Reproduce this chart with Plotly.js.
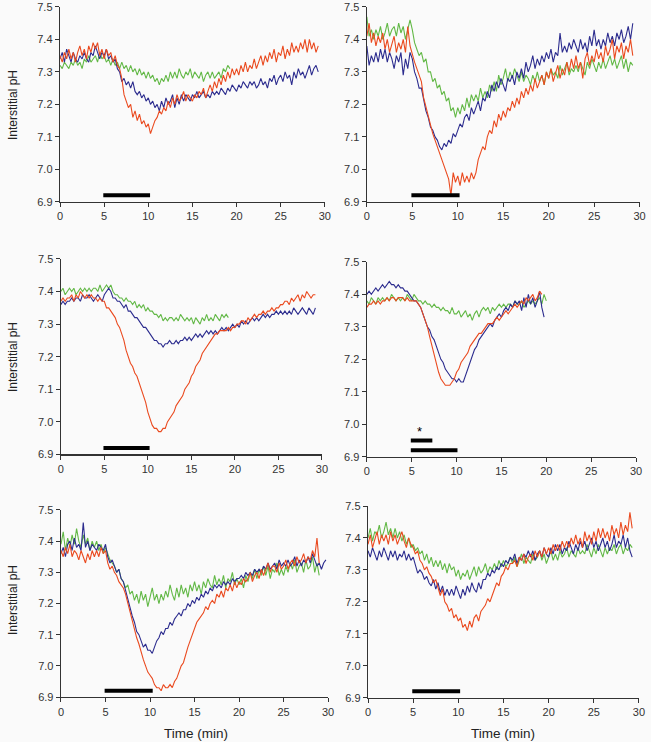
<!DOCTYPE html>
<html>
<head>
<meta charset="utf-8">
<script src="https://cdn.plot.ly/plotly-3.0.1.min.js"></script>
<style>html,body{margin:0;padding:0;background:#fafafa;}#chart{width:651px;height:742px;}</style>
</head>
<body>
<div id="chart"></div>
<script>
// Sampling step of every trace (min)
const STEP = 0.25;

// Panel 1 (top-left)
const p1_red = [7.35,7.33,7.36,7.34, 7.37,7.34,7.36,7.33, 7.36,7.38,7.35,7.37, 7.34,7.38,7.36,7.39, 7.37,7.39,7.35,7.37, 7.34,7.37,7.35,7.36, 7.33,7.35,7.32,7.31, 7.28,7.23,7.21,7.19, 7.20,7.16,7.18,7.15, 7.17,7.14,7.15,7.13, 7.14,7.11,7.13,7.15, 7.16,7.18,7.17,7.19, 7.18,7.21,7.19,7.22, 7.20,7.23,7.21,7.22, 7.24,7.21,7.23,7.22, 7.21,7.23,7.22,7.24, 7.23,7.25,7.22,7.24, 7.26,7.24,7.27,7.25, 7.28,7.26,7.29,7.27, 7.30,7.28,7.31,7.29, 7.31,7.29,7.32,7.30, 7.33,7.30,7.32,7.31, 7.34,7.31,7.33,7.35, 7.32,7.35,7.33,7.36, 7.34,7.37,7.33,7.36, 7.35,7.38,7.34,7.37, 7.35,7.39,7.36,7.38, 7.36,7.39,7.37,7.40, 7.36,7.40,7.37,7.39, 7.36,7.38];
const p1_blue = [7.34,7.36,7.33,7.37, 7.35,7.33,7.36,7.34, 7.33,7.35,7.34,7.36, 7.34,7.33,7.36,7.35, 7.38,7.36,7.34,7.36, 7.35,7.37,7.34,7.35, 7.33,7.34,7.31,7.30, 7.27,7.28,7.26,7.27, 7.25,7.27,7.24,7.23, 7.24,7.22,7.23,7.21, 7.22,7.20,7.21,7.19, 7.20,7.18,7.21,7.19, 7.22,7.20,7.21,7.23, 7.19,7.22,7.20,7.23, 7.21,7.23,7.22,7.21, 7.23,7.22,7.24,7.22, 7.23,7.24,7.22,7.23, 7.22,7.24,7.23,7.24, 7.23,7.25,7.24,7.23, 7.25,7.24,7.26,7.25, 7.24,7.26,7.25,7.27, 7.26,7.25,7.27,7.26, 7.27,7.25,7.26,7.28, 7.26,7.27,7.25,7.28, 7.27,7.29,7.26,7.28, 7.29,7.27,7.30,7.28, 7.29,7.26,7.30,7.28, 7.31,7.29,7.30,7.28, 7.30,7.32,7.29,7.31, 7.32,7.30];
const p1_green = [7.32,7.31,7.33,7.32, 7.31,7.33,7.32,7.34, 7.32,7.33,7.31,7.34, 7.33,7.35,7.33,7.34, 7.35,7.33,7.36,7.34, 7.35,7.33,7.34,7.32, 7.34,7.32,7.33,7.31, 7.33,7.31,7.32,7.30, 7.32,7.30,7.31,7.29, 7.31,7.29,7.30,7.28, 7.30,7.28,7.29,7.27, 7.28,7.26,7.28,7.27, 7.29,7.27,7.30,7.28, 7.30,7.28,7.31,7.29, 7.28,7.30,7.29,7.31, 7.28,7.30,7.29,7.28, 7.30,7.27,7.29,7.30, 7.28,7.30,7.28,7.29, 7.30,7.28,7.31,7.30, 7.32,7.31];

// Panel 2 (top-right)
const p2_red = [7.41,7.45,7.39,7.42, 7.38,7.41,7.39,7.42, 7.37,7.40,7.36,7.39, 7.41,7.36,7.39,7.37, 7.40,7.36,7.44,7.38, 7.35,7.33,7.31,7.29, 7.27,7.22,7.19,7.16, 7.14,7.11,7.09,7.07, 7.05,7.03,7.01,6.99, 6.97,6.92,6.99,6.96, 6.98,6.95,6.99,6.96, 6.98,6.96,6.99,6.97, 6.99,7.03,7.05,7.07, 7.06,7.10,7.12,7.11, 7.15,7.13,7.17,7.15, 7.18,7.16,7.19,7.18, 7.21,7.19,7.22,7.20, 7.24,7.22,7.25,7.23, 7.26,7.24,7.28,7.25, 7.27,7.29,7.26,7.30, 7.28,7.31,7.27,7.30, 7.32,7.28,7.31,7.29, 7.33,7.30,7.34,7.31, 7.35,7.31,7.33,7.28, 7.34,7.36,7.32,7.35, 7.33,7.37,7.34,7.36, 7.33,7.38,7.35,7.37, 7.40,7.34,7.38,7.36, 7.39,7.34,7.38,7.36, 7.40,7.35];
const p2_blue = [7.38,7.32,7.35,7.33, 7.36,7.33,7.37,7.34, 7.37,7.33,7.36,7.34, 7.31,7.35,7.33,7.36, 7.29,7.34,7.31,7.36, 7.34,7.30,7.28,7.25, 7.25,7.21,7.18,7.16, 7.13,7.12,7.10,7.09, 7.07,7.06,7.08,7.07, 7.09,7.08,7.11,7.10, 7.12,7.14,7.13,7.16, 7.17,7.15,7.19,7.17, 7.19,7.21,7.18,7.22, 7.21,7.24,7.22,7.26, 7.24,7.27,7.25,7.28, 7.26,7.24,7.28,7.27, 7.29,7.26,7.30,7.28, 7.31,7.28,7.33,7.30, 7.32,7.35,7.31,7.34, 7.32,7.35,7.33,7.36, 7.34,7.37,7.33,7.36, 7.35,7.42,7.36,7.38, 7.36,7.39,7.37,7.40, 7.38,7.36,7.40,7.37, 7.39,7.36,7.41,7.38, 7.43,7.38,7.40,7.37, 7.40,7.38,7.42,7.39, 7.41,7.38,7.42,7.40, 7.43,7.39,7.41,7.44, 7.40,7.45];
const p2_green = [7.47,7.41,7.43,7.40, 7.43,7.41,7.44,7.40, 7.42,7.45,7.41,7.43, 7.44,7.41,7.45,7.42, 7.44,7.40,7.43,7.46, 7.43,7.39,7.37,7.35, 7.36,7.33,7.34,7.30, 7.30,7.27,7.28,7.25, 7.26,7.23,7.24,7.21, 7.22,7.18,7.19,7.16, 7.19,7.17,7.20,7.18, 7.22,7.19,7.23,7.21, 7.23,7.21,7.25,7.22, 7.24,7.22,7.26,7.24, 7.27,7.24,7.29,7.26, 7.28,7.31,7.27,7.30, 7.28,7.31,7.29,7.27, 7.30,7.27,7.29,7.28, 7.26,7.29,7.27,7.30, 7.27,7.29,7.26,7.30, 7.28,7.31,7.29,7.30, 7.28,7.32,7.29,7.31, 7.33,7.29,7.31,7.30, 7.32,7.30,7.33,7.31, 7.29,7.33,7.31,7.34, 7.32,7.30,7.33,7.31, 7.34,7.31,7.33,7.35, 7.32,7.34,7.31,7.33, 7.35,7.31,7.34,7.30, 7.33,7.32];

// Panel 3 (middle-left)
const p3_red = [7.37,7.38,7.37,7.38, 7.38,7.39,7.37,7.39, 7.38,7.40,7.39,7.38, 7.39,7.38,7.39,7.38, 7.38,7.37,7.38,7.37, 7.37,7.35,7.35,7.34, 7.33,7.32,7.30,7.29, 7.27,7.25,7.22,7.20, 7.18,7.17,7.15,7.14, 7.12,7.10,7.08,7.06, 7.03,7.01,6.99,6.98, 6.98,6.97,6.97,6.98, 6.98,7.00,7.01,7.02, 7.03,7.05,7.06,7.07, 7.08,7.10,7.11,7.12, 7.14,7.15,7.17,7.18, 7.19,7.21,7.22,7.23, 7.24,7.25,7.26,7.27, 7.27,7.28,7.28,7.28, 7.28,7.29,7.28,7.29, 7.29,7.30,7.30,7.31, 7.31,7.30,7.32,7.31, 7.32,7.33,7.32,7.33, 7.33,7.34,7.33,7.34, 7.34,7.35,7.34,7.35, 7.35,7.36,7.36,7.37, 7.37,7.36,7.38,7.37, 7.38,7.39,7.37,7.39, 7.38,7.40,7.39,7.38, 7.39,7.39];
const p3_blue = [7.36,7.37,7.36,7.37, 7.37,7.38,7.37,7.38, 7.38,7.37,7.39,7.38, 7.38,7.39,7.38,7.37, 7.38,7.39,7.38,7.37, 7.39,7.40,7.41,7.40, 7.38,7.38,7.37,7.37, 7.36,7.35,7.36,7.34, 7.34,7.33,7.32,7.32, 7.31,7.30,7.29,7.29, 7.28,7.27,7.26,7.25, 7.25,7.24,7.24,7.23, 7.24,7.24,7.25,7.24, 7.24,7.25,7.24,7.25, 7.25,7.26,7.25,7.26, 7.25,7.26,7.27,7.26, 7.27,7.26,7.27,7.28, 7.27,7.28,7.27,7.28, 7.27,7.28,7.29,7.28, 7.29,7.28,7.29,7.30, 7.29,7.30,7.29,7.31, 7.30,7.31,7.30,7.31, 7.32,7.31,7.32,7.31, 7.32,7.33,7.32,7.33, 7.32,7.33,7.33,7.34, 7.33,7.34,7.33,7.34, 7.33,7.34,7.33,7.35, 7.34,7.33,7.34,7.35, 7.34,7.33,7.35,7.34, 7.33,7.35];
const p3_green = [7.40,7.41,7.39,7.40, 7.41,7.40,7.41,7.39, 7.40,7.41,7.40,7.41, 7.40,7.41,7.40,7.41, 7.41,7.40,7.42,7.40, 7.41,7.42,7.41,7.42, 7.40,7.39,7.39,7.38, 7.38,7.37,7.38,7.37, 7.37,7.36,7.37,7.35, 7.36,7.35,7.36,7.34, 7.35,7.34,7.34,7.33, 7.33,7.32,7.33,7.31, 7.32,7.31,7.32,7.32, 7.31,7.32,7.31,7.33, 7.32,7.31,7.32,7.31, 7.32,7.30,7.32,7.31, 7.30,7.32,7.31,7.33, 7.31,7.32,7.31,7.33, 7.32,7.31,7.33,7.32, 7.33,7.32];

// Panel 4 (middle-right)
const p4_red = [7.36,7.37,7.37,7.38, 7.37,7.38,7.37,7.38, 7.38,7.39,7.38,7.39, 7.39,7.38,7.39,7.39, 7.39,7.38,7.39,7.38, 7.38,7.38,7.38,7.37, 7.36,7.34,7.32,7.30, 7.27,7.24,7.21,7.19, 7.16,7.14,7.13,7.12, 7.12,7.12,7.13,7.14, 7.16,7.17,7.19,7.20, 7.21,7.22,7.24,7.25, 7.26,7.27,7.28,7.28, 7.29,7.30,7.31,7.31, 7.31,7.32,7.33,7.32, 7.33,7.34,7.35,7.34, 7.35,7.36,7.37,7.36, 7.37,7.38,7.37,7.39, 7.38,7.39,7.40,7.38, 7.39,7.41,7.40];
const p4_blue = [7.40,7.41,7.40,7.41, 7.42,7.41,7.42,7.43, 7.42,7.43,7.44,7.43, 7.43,7.42,7.43,7.42, 7.42,7.41,7.41,7.40, 7.39,7.38,7.38,7.37, 7.36,7.34,7.32,7.30, 7.29,7.27,7.26,7.24, 7.22,7.20,7.19,7.17, 7.16,7.15,7.14,7.14, 7.13,7.14,7.13,7.13, 7.15,7.17,7.19,7.21, 7.23,7.24,7.26,7.27, 7.28,7.29,7.30,7.31, 7.30,7.32,7.33,7.34, 7.33,7.35,7.36,7.35, 7.37,7.36,7.38,7.37, 7.38,7.35,7.39,7.36, 7.40,7.37,7.39,7.36, 7.38,7.41,7.36,7.33];
const p4_green = [7.38,7.37,7.39,7.38, 7.37,7.39,7.38,7.39, 7.38,7.39,7.38,7.40, 7.39,7.38,7.39,7.38, 7.39,7.38,7.40,7.39, 7.38,7.40,7.39,7.38, 7.38,7.37,7.38,7.37, 7.37,7.36,7.37,7.36, 7.36,7.35,7.36,7.35, 7.35,7.34,7.36,7.34, 7.34,7.35,7.33,7.34, 7.35,7.33,7.34,7.32, 7.34,7.35,7.33,7.35, 7.36,7.35,7.36,7.34, 7.36,7.35,7.36,7.37, 7.36,7.37,7.36,7.37, 7.37,7.36,7.38,7.37, 7.37,7.38,7.36,7.37, 7.38,7.37,7.38,7.37, 7.38,7.39,7.37,7.40, 7.38];

// Panel 5 (bottom-left)
const p5_red = [7.37,7.35,7.38,7.36, 7.39,7.35,7.37,7.36, 7.34,7.37,7.35,7.33, 7.36,7.34,7.37,7.35, 7.37,7.35,7.38,7.36, 7.37,7.33,7.31,7.32, 7.30,7.29,7.27,7.26, 7.25,7.23,7.20,7.17, 7.14,7.12,7.09,7.07, 7.04,7.02,7.00,6.98, 6.97,6.96,6.94,6.93, 6.93,6.92,6.94,6.93, 6.93,6.94,6.93,6.95, 6.96,6.98,7.00,7.01, 7.04,7.06,7.08,7.10, 7.12,7.14,7.15,7.16, 7.17,7.19,7.18,7.20, 7.21,7.20,7.23,7.22, 7.24,7.22,7.25,7.24, 7.26,7.24,7.27,7.25, 7.27,7.26,7.28,7.27, 7.28,7.30,7.27,7.29, 7.30,7.28,7.31,7.29, 7.31,7.33,7.30,7.32, 7.32,7.30,7.33,7.31, 7.32,7.34,7.31,7.33, 7.34,7.32,7.35,7.33, 7.34,7.36,7.33,7.35, 7.34,7.37,7.35,7.41, 7.33];
const p5_blue = [7.36,7.38,7.35,7.39, 7.40,7.37,7.41,7.38, 7.39,7.37,7.46,7.38, 7.40,7.37,7.39,7.38, 7.37,7.39,7.38,7.37, 7.39,7.35,7.33,7.34, 7.32,7.30,7.31,7.28, 7.27,7.24,7.22,7.19, 7.16,7.14,7.11,7.10, 7.08,7.06,7.07,7.05, 7.05,7.04,7.06,7.08, 7.09,7.11,7.10,7.12, 7.12,7.14,7.13,7.15, 7.16,7.17,7.16,7.18, 7.18,7.20,7.19,7.21, 7.20,7.22,7.21,7.23, 7.22,7.24,7.23,7.25, 7.24,7.26,7.25,7.26, 7.25,7.27,7.26,7.27, 7.26,7.28,7.27,7.28, 7.28,7.29,7.28,7.30, 7.29,7.30,7.29,7.31, 7.30,7.31,7.30,7.32, 7.31,7.33,7.31,7.32, 7.33,7.31,7.34,7.32, 7.33,7.32,7.34,7.32, 7.33,7.35,7.32,7.34, 7.32,7.34,7.33,7.35, 7.33,7.36,7.34,7.32, 7.33,7.31,7.33,7.34];
const p5_green = [7.39,7.43,7.37,7.41, 7.38,7.42,7.39,7.44, 7.40,7.38,7.42,7.39, 7.41,7.37,7.40,7.38, 7.40,7.37,7.39,7.36, 7.38,7.36,7.34,7.33, 7.32,7.30,7.31,7.28, 7.27,7.25,7.26,7.23, 7.24,7.21,7.23,7.20, 7.24,7.21,7.23,7.19, 7.22,7.25,7.21,7.23, 7.20,7.23,7.21,7.24, 7.22,7.26,7.23,7.21, 7.25,7.22,7.26,7.23, 7.25,7.22,7.26,7.24, 7.27,7.24,7.26,7.23, 7.27,7.25,7.28,7.26, 7.25,7.29,7.26,7.28, 7.26,7.29,7.25,7.28, 7.27,7.30,7.26,7.28, 7.26,7.28,7.25,7.29, 7.27,7.30,7.28,7.31, 7.28,7.31,7.29,7.32, 7.29,7.32,7.28,7.31, 7.30,7.33,7.29,7.31, 7.29,7.32,7.30,7.33, 7.31,7.34,7.30,7.32, 7.33,7.30,7.34,7.31, 7.32,7.35,7.30,7.33, 7.29];

// Panel 6 (bottom-right)
const p6_red = [7.38,7.41,7.37,7.40, 7.42,7.38,7.41,7.39, 7.41,7.38,7.42,7.39, 7.41,7.38,7.40,7.42, 7.39,7.37,7.40,7.38, 7.37,7.35,7.36,7.33, 7.32,7.30,7.31,7.29, 7.28,7.26,7.27,7.24, 7.22,7.24,7.20,7.19, 7.17,7.18,7.15,7.16, 7.14,7.15,7.12,7.13, 7.11,7.14,7.12,7.15, 7.16,7.14,7.17,7.18, 7.19,7.21,7.20,7.22, 7.24,7.26,7.25,7.28, 7.29,7.31,7.30,7.32, 7.32,7.33,7.31,7.34, 7.33,7.35,7.32,7.34, 7.35,7.33,7.36,7.34, 7.36,7.34,7.37,7.35, 7.37,7.35,7.38,7.36, 7.38,7.36,7.39,7.37, 7.39,7.37,7.40,7.38, 7.41,7.38,7.40,7.37, 7.42,7.39,7.41,7.38, 7.42,7.39,7.43,7.40, 7.43,7.40,7.42,7.39, 7.44,7.41,7.43,7.40, 7.45,7.41,7.44,7.42, 7.48,7.43];
const p6_blue = [7.36,7.34,7.37,7.35, 7.33,7.36,7.34,7.37, 7.35,7.33,7.36,7.34, 7.36,7.33,7.35,7.34, 7.36,7.33,7.35,7.33, 7.34,7.31,7.29,7.30, 7.29,7.27,7.28,7.26, 7.25,7.27,7.24,7.26, 7.23,7.25,7.22,7.24, 7.22,7.24,7.22,7.25, 7.23,7.21,7.24,7.22, 7.25,7.23,7.26,7.24, 7.23,7.26,7.24,7.27, 7.27,7.29,7.28,7.30, 7.29,7.31,7.30,7.32, 7.31,7.33,7.32,7.34, 7.33,7.35,7.32,7.34, 7.33,7.35,7.34,7.36, 7.34,7.36,7.33,7.35, 7.36,7.34,7.37,7.35, 7.34,7.37,7.35,7.38, 7.36,7.38,7.35,7.37, 7.36,7.39,7.37,7.35, 7.38,7.36,7.39,7.37, 7.39,7.36,7.38,7.40, 7.37,7.39,7.36,7.38, 7.40,7.37,7.39,7.36, 7.38,7.41,7.37,7.39, 7.38,7.41,7.37,7.40, 7.36,7.34];
const p6_green = [7.40,7.43,7.39,7.42, 7.41,7.44,7.40,7.42, 7.45,7.41,7.43,7.40, 7.43,7.40,7.42,7.39, 7.41,7.38,7.40,7.37, 7.38,7.36,7.37,7.35, 7.36,7.33,7.35,7.32, 7.34,7.31,7.33,7.31, 7.33,7.30,7.32,7.29, 7.32,7.30,7.31,7.28, 7.30,7.27,7.29,7.28, 7.30,7.27,7.29,7.31, 7.28,7.31,7.29,7.30, 7.32,7.29,7.31,7.30, 7.32,7.30,7.33,7.31, 7.33,7.31,7.32,7.34, 7.32,7.34,7.31,7.33, 7.35,7.32,7.34,7.33, 7.32,7.35,7.33,7.34, 7.36,7.33,7.35,7.32, 7.34,7.36,7.33,7.35, 7.33,7.36,7.34,7.35, 7.37,7.34,7.36,7.35, 7.34,7.37,7.35,7.36, 7.35,7.38,7.36,7.34, 7.37,7.35,7.38,7.36, 7.34,7.37,7.35,7.37, 7.36,7.38,7.35,7.37, 7.38,7.35,7.37,7.36, 7.38,7.37];

// Stimulation bars per panel: [start, end, level]
const barStart = [[4.9],[4.9],[4.9],[4.9, 4.9],[4.9],[4.9]];
const barEnd   = [[10.2],[10.2],[10.2],[7.3, 10.1],[10.3],[10.2]];
const barLevel = [[6.92],[6.92],[6.92],[6.95, 6.92],[6.92],[6.92]];
const starX = 5.9, starY = 6.978, starPanel = 3;

const panels = [
  {red:p1_red, blue:p1_blue, green:p1_green},
  {red:p2_red, blue:p2_blue, green:p2_green},
  {red:p3_red, blue:p3_blue, green:p3_green},
  {red:p4_red, blue:p4_blue, green:p4_green},
  {red:p5_red, blue:p5_blue, green:p5_green},
  {red:p6_red, blue:p6_blue, green:p6_green}
];

const xTicks = [0,5,10,15,20,25,30];
const yTicks = [6.9,7.0,7.1,7.2,7.3,7.4,7.5];

const COLORS = {green:'#62b846', blue:'#2c2c8e', red:'#ea4a1f'};
const times = arr => arr.map((_, i) => i * STEP);

const traces = [];
panels.forEach((p, k) => {
  const ax = k === 0 ? '' : String(k + 1);
  ['green','blue','red'].forEach(c => {
    traces.push({x: times(p[c]), y: p[c], type:'scatter', mode:'lines',
      line:{color:COLORS[c], width:1.1}, xaxis:'x'+ax, yaxis:'y'+ax, hoverinfo:'skip'});
  });
  barStart[k].forEach((s, j) => {
    traces.push({x:[s, barEnd[k][j]], y:[barLevel[k][j], barLevel[k][j]], type:'scatter', mode:'lines',
      line:{color:'#000', width:4}, xaxis:'x'+ax, yaxis:'y'+ax, hoverinfo:'skip'});
  });
});

const layout = {
  width:651, height:742,
  margin:{l:0, r:0, t:0, b:0},
  paper_bgcolor:'#fafafa', plot_bgcolor:'#fafafa',
  showlegend:false,
  font:{family:'Liberation Sans, Arial, sans-serif', size:11, color:'#333'},
  annotations:[],
};
const colDom = [[0.0922,0.499],[0.5635,0.9825],[0.0934,0.4945],[0.5635,0.977],[0.0937,0.504],[0.5653,0.9815]];
const rowDom = [[0.728,0.9906],[0.728,0.9906],[0.3875,0.651],[0.3845,0.647],[0.0606,0.3127],[0.0597,0.318]];
for (let k = 0; k < 6; k++) {
  const ax = k === 0 ? '' : String(k + 1);
  layout['xaxis'+ax] = {domain:colDom[k], anchor:'y'+ax, range:[0,30], tickvals:xTicks,
    ticks:'outside', ticklen:4, tickcolor:'#333', showline:true, linecolor:'#333', linewidth:1.3,
    showgrid:false, zeroline:false, tickfont:{size:11, color:'#333'}, fixedrange:true};
  layout['yaxis'+ax] = {domain:rowDom[k], anchor:'x'+ax, range:[6.9,7.5], tickvals:yTicks, tickformat:'.1f',
    ticks:'outside', ticklen:4, tickcolor:'#333', showline:true, linecolor:'#333', linewidth:1.3,
    showgrid:false, zeroline:false, tickfont:{size:11, color:'#333'}, fixedrange:true};
}
// Y-axis titles (left column), centred at y = 105, 357, 600 px
[1-105/742, 1-357/742, 1-600/742].forEach(v => {
  layout.annotations.push({text:'Interstitial pH', xref:'paper', yref:'paper', x:13/651, y:v,
    xanchor:'center', yanchor:'middle', textangle:-90, showarrow:false, font:{size:12, color:'#222'}});
});
// X-axis titles (bottom row), centred at y = 733 px
[196/651, 503/651].forEach(v => {
  layout.annotations.push({text:'Time (min)', xref:'paper', yref:'paper', x:v, y:1-733/742,
    xanchor:'center', yanchor:'middle', showarrow:false, font:{size:13.5, color:'#222'}});
});
// asterisk
layout.annotations.push({text:'*', xref:'x'+(starPanel+1), yref:'y'+(starPanel+1), x:starX, y:starY,
  showarrow:false, font:{size:13, color:'#000'}});

Plotly.newPlot('chart', traces, layout, {staticPlot:true, displayModeBar:false});
</script>
</body>
</html>
